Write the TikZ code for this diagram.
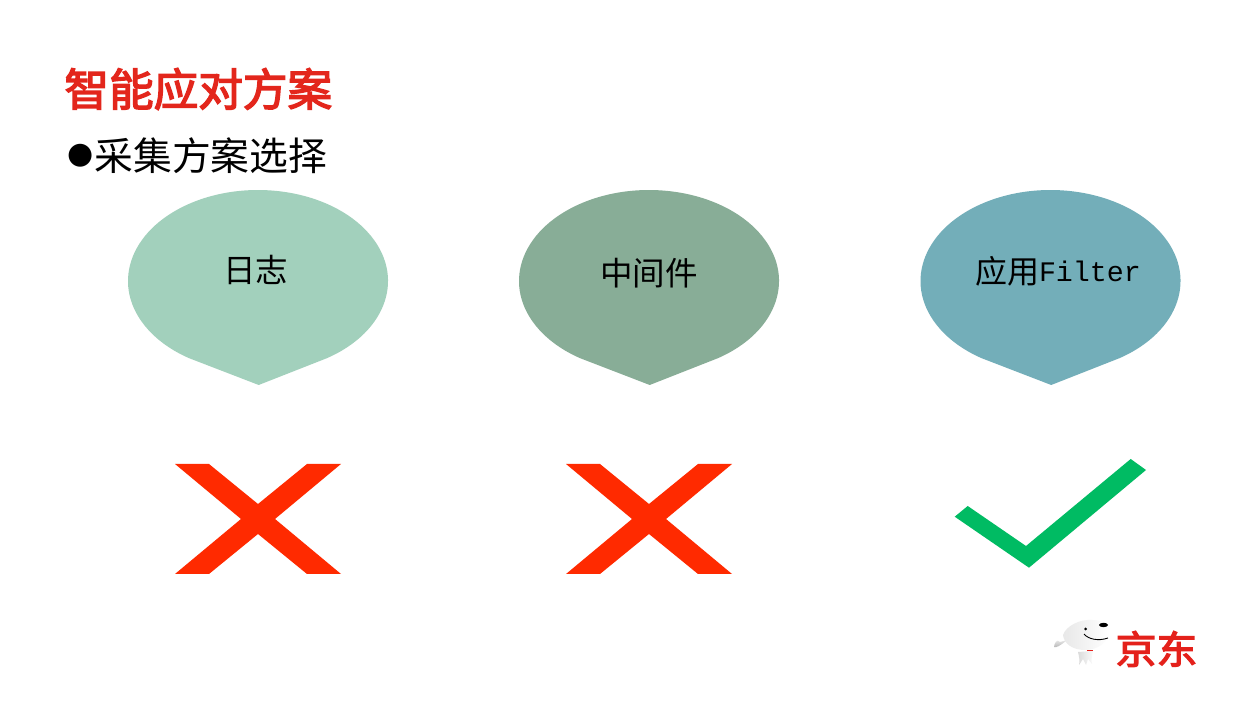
\documentclass[tikz,border=0pt]{standalone}
\usepackage{fontspec}
\setmainfont{Liberation Mono}
\newfontfamily\cjk{Noto Sans CJK SC}
\newfontfamily\cjkmed[FakeBold=3.2]{Noto Sans CJK SC}
\newfontfamily\sym{DejaVu Sans}
\definecolor{titlered}{HTML}{E3261C}
\definecolor{dropA}{HTML}{A2D0BC}
\definecolor{dropB}{HTML}{88AD97}
\definecolor{dropC}{HTML}{73AEB9}
\definecolor{crossred}{HTML}{FF2A00}
\definecolor{checkgreen}{HTML}{00BB63}
\definecolor{jdred}{HTML}{E4211B}
\newcommand{\dropshape}[2]{%
  \fill[#2] (#1+68.9,349.8) arc[start angle=-58,end angle=238,x radius=130,y radius=91] -- (#1+0.7,323) -- cycle;}
\newcommand{\crossshape}[1]{%
  \begin{scope}[shift={(#1,0)}]
  \fill[crossred] (175,244) -- (209,244) -- (258,204) -- (307,244) -- (341,244) -- (275,189) -- (341,134) -- (307,134) -- (258,174) -- (209,134) -- (175,134) -- (241,189) -- cycle;
  \end{scope}}
\begin{document}
\begin{tikzpicture}[x=1pt,y=1pt,
  lbl/.style={inner sep=0pt,outer sep=0pt,text=black,font=\cjk\fontsize{32.5}{32}\selectfont},
  head/.style={inner sep=0pt,outer sep=0pt,anchor=west}]
\useasboundingbox (0,0) rectangle (1260,708);
\fill[white] (0,0) rectangle (1260,708);
\node[head,text=titlered] (title) at (64.5,619) {\cjkmed\fontsize{44.6}{44.6}\selectfont 智能应对方案};
\node[head] (bullet) at (67,552) {\sym\fontsize{30}{30}\selectfont ●};
\node[head] (sub) at (94.5,552) {\cjk\fontsize{38.8}{38.8}\selectfont 采集方案选择};
\dropshape{258}{dropA}
\dropshape{649}{dropB}
\dropshape{1050.5}{dropC}
\node[lbl] (l1) at (255.5,438) {日志};
\node[lbl] (l2) at (649,435) {中间件};
\node[head] (l3) at (975,437) {\cjk\fontsize{32}{32}\selectfont 应用\setmainfont{Liberation Mono}\rmfamily\raisebox{1.5pt}{\fontsize{28.3}{32}\selectfont Filter}};
\crossshape{0}
\crossshape{391}
\fill[checkgreen] (967.7,202) -- (1026,162) -- (1130.7,249) -- (1146,238) -- (1029,140.3) -- (954.7,191.3) -- cycle;
% logo
\path[top color=black!4,bottom color=black!30] (1060,66) .. controls (1057,70) and (1054,64) .. (1054,61) .. controls (1056,60) and (1060,62) .. (1067,68) -- cycle;
\path[left color=black!14,right color=black!2] (1078,56) .. controls (1079,52) and (1080,47) .. (1079,43) -- (1083,49) -- (1086,43) -- (1088,49) -- (1092,44) .. controls (1091,48) and (1092,52) .. (1093,57) -- cycle;
\path[left color=black!9,right color=white] (1063,73) .. controls (1066,82) and (1080,89) .. (1092,88) .. controls (1102,88) and (1110,84) .. (1109,76) .. controls (1108,66) and (1098,58) .. (1085,58) .. controls (1073,58) and (1064,64) .. (1063,73) -- cycle;
\fill[jdred] (1087,56.5) rectangle (1093,58.3);
\fill[black] (1103.5,83) ellipse[x radius=4.5,y radius=2.2];
\fill[black] (1085.5,79) circle[radius=1.5];
\draw[black,line width=0.9pt] (1084,74) .. controls (1088,69) and (1098,66.5) .. (1108,70);
\node[inner sep=0pt,text=jdred,xscale=1.06] (jd) at (1156.5,59) {\cjkmed\fontsize{38.5}{38.5}\selectfont 京东};
\end{tikzpicture}
\end{document}
